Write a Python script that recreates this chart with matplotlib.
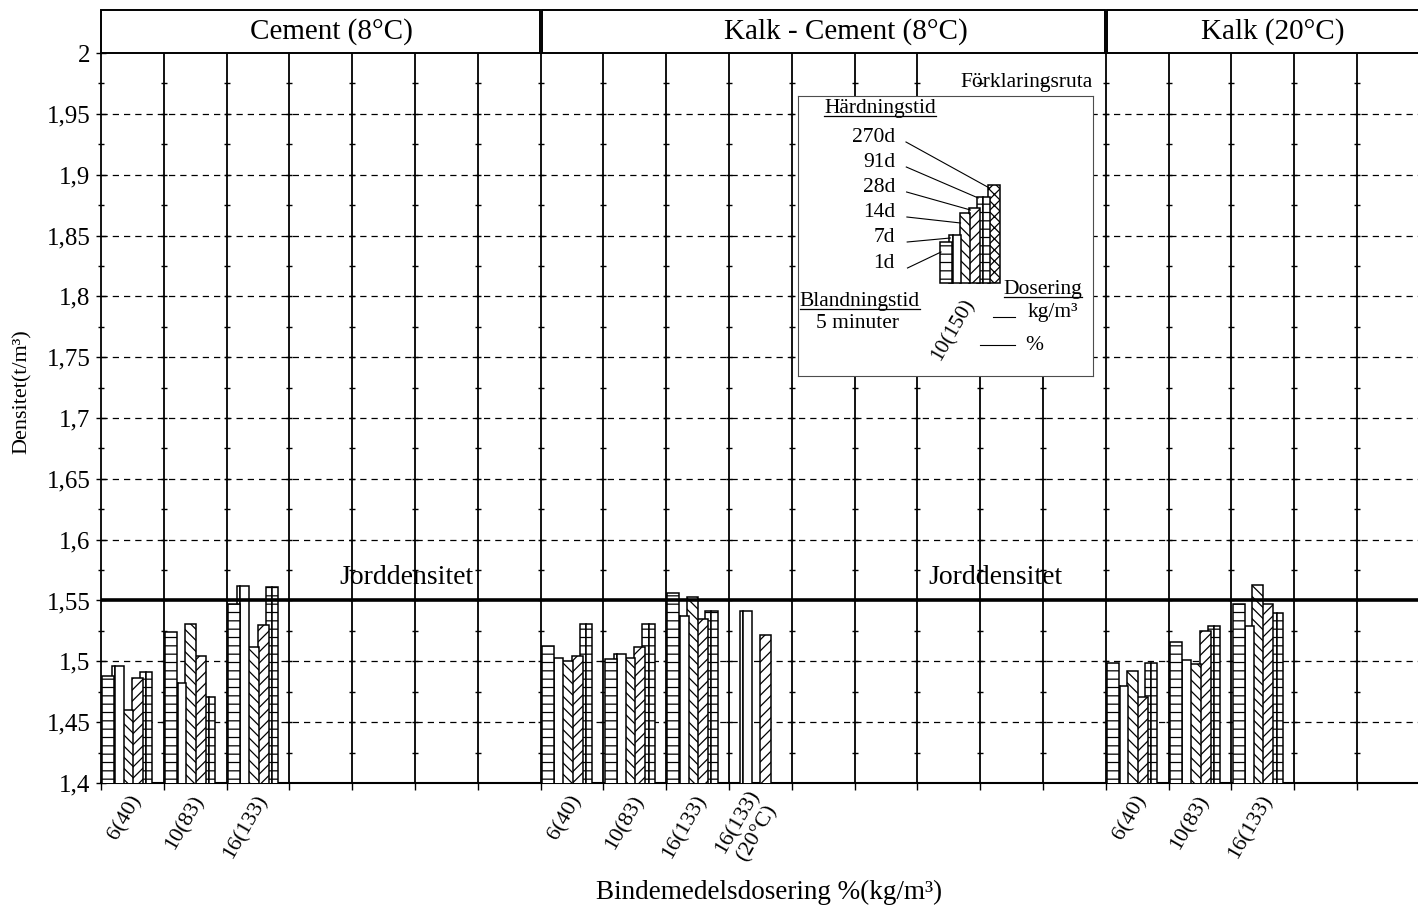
import numpy as np
import matplotlib.pyplot as plt
from matplotlib.patches import Rectangle
from matplotlib.transforms import blended_transform_factory, offset_copy
from matplotlib.ticker import FixedLocator, FuncFormatter, NullFormatter

plt.rcParams['font.family'] = ['Liberation Serif', 'DejaVu Serif']
plt.rcParams['hatch.linewidth'] = 0.9
plt.rcParams['hatch.color'] = 'black'

# ---------------------------------------------------------------- data
panel_titles = ['Cement (8°C)', 'Kalk - Cement (8°C)', 'Kalk (20°C)']
panel_slots = [7, 9, 5]
group_slots = [0, 1, 2, 7, 8, 9, 10, 16, 17, 18]
group_labels = ['6(40)', '10(83)', '16(133)',
                '6(40)', '10(83)', '16(133)', '16(133)\n(20°C)',
                '6(40)', '10(83)', '16(133)']
curing_times = ['1d', '7d', '14d', '28d', '91d', '270d']

nan = np.nan
dens_1d = [1.488, 1.524, 1.547, 1.513, 1.502, 1.556, nan, 1.499, 1.516, 1.547]
dens_7d = [1.496, 1.482, 1.562, 1.503, 1.506, 1.537, 1.541, 1.480, 1.501, 1.529]
dens_14d = [1.460, 1.531, 1.512, 1.500, 1.503, 1.553, nan, 1.492, 1.498, 1.563]
dens_28d = [1.486, 1.504, 1.530, 1.504, 1.512, 1.535, 1.522, 1.471, 1.525, 1.547]
dens_91d = [1.491, 1.471, 1.561, 1.531, 1.531, 1.541, nan, 1.499, 1.529, 1.540]
dens_270d = [nan] * 10
series = [dens_1d, dens_7d, dens_14d, dens_28d, dens_91d, dens_270d]

soil_density = 1.55
soil_label = 'Jorddensitet'
y_ticks = [1.4, 1.45, 1.5, 1.55, 1.6, 1.65, 1.7, 1.75, 1.8, 1.85, 1.9, 1.95, 2.0]

# key (Förklaringsruta) sample bar heights, in key-box pixels
key_heights = [41, 48, 70, 75, 86, 98]

# ---------------------------------------------------------------- layout
W, H = 1418, 908
AX_LEFT, AX_TOP, AX_BOTTOM = 101, 53, 783
SLOT_PX = 62.8
HEADER_TOP = 10
header_text_px = [331, 846, 1273]

bar_left = [0.02, 0.17, 0.335, 0.495, 0.62, 0.80]   # fraction of a slot
bar_width = [0.19, 0.19, 0.175, 0.175, 0.20, 0.19]
bar_hatch = ['--', '', '\\\\\\', '///', '--', 'xxx']
bar_z = [8, 7, 6, 5, 4, 3]

fig = plt.figure(figsize=(W / 100, H / 100), dpi=100)
ax = fig.add_axes([AX_LEFT / W, 1 - AX_BOTTOM / H,
                   (W - AX_LEFT) / W, (AX_BOTTOM - AX_TOP) / H])
n_slots = sum(panel_slots)
ax.set_xlim(0, (W - AX_LEFT) / SLOT_PX)
ax.set_ylim(y_ticks[0], y_ticks[-1])
ax.patch.set_visible(False)


def draw_bars(axis, x0, k, heights, slot, base=0, z_off=0):
    left = np.asarray(x0, float) + bar_left[k] * slot
    w = bar_width[k] * slot
    kw = dict(align='edge', bottom=base, facecolor='white', edgecolor='black',
              linewidth=1.1, hatch=bar_hatch[k], zorder=bar_z[k] + z_off)
    h = np.asarray(heights, float) - base
    if curing_times[k] == '7d':
        axis.bar(left, h, width=0.27 * w, **kw)
        axis.bar(left + 0.27 * w, h, width=0.73 * w, **kw)
    elif curing_times[k] == '91d':
        axis.bar(left, h, width=0.5 * w, **kw)
        axis.bar(left + 0.5 * w, h, width=0.5 * w, **kw)
    else:
        axis.bar(left, h, width=w, **kw)
    return left, w


for k, vals in enumerate(series):
    draw_bars(ax, group_slots, k, vals, 1.0)

# slot separators, dashed grid and soil density line
ax.vlines(np.arange(1, n_slots), y_ticks[0], y_ticks[-1], color='black',
          linewidth=1.3, zorder=2)
for v in y_ticks[1:-1]:
    if abs(v - soil_density) > 1e-9:
        ax.axhline(v, color='black', linewidth=0.9, linestyle=(0, (5, 4)), zorder=1)
ax.axhline(soil_density, color='black', linewidth=2.6, zorder=10)

# small tick marks on every separator
mids = [(a + b) / 2 for a, b in zip(y_ticks[:-1], y_ticks[1:])]
levels = sorted(y_ticks[1:-1] + mids)
xs, ys = np.meshgrid(np.arange(1, n_slots), levels)
ax.plot(xs.ravel(), ys.ravel(), linestyle='none', marker='_', markersize=5,
        markeredgewidth=1.0, color='black', zorder=2.5)

# axes styling
for side in ('top', 'right'):
    ax.spines[side].set_visible(False)
ax.spines['left'].set_linewidth(1.3)
ax.spines['bottom'].set_linewidth(1.5)
ax.yaxis.set_major_locator(FixedLocator(y_ticks))
ax.yaxis.set_minor_locator(FixedLocator(mids))
ax.yaxis.set_major_formatter(FuncFormatter(lambda v, p: ('%g' % round(v, 3)).replace('.', ',')))
ax.tick_params(axis='y', which='major', direction='inout', length=7, width=1,
               labelsize=18, pad=4)
ax.tick_params(axis='y', which='minor', direction='inout', length=5, width=1)
ax.xaxis.set_major_locator(FixedLocator(np.arange(0, n_slots)))
ax.xaxis.set_major_formatter(NullFormatter())
ax.tick_params(axis='x', which='major', direction='out', length=5, width=1)

# group labels under the slots
lab_tr = offset_copy(ax.transData, fig=fig, x=0, y=-14, units='dots')
for s, lab in zip(group_slots, group_labels):
    ax.text(s + 0.58, y_ticks[0], lab, transform=lab_tr, rotation=60,
            rotation_mode='anchor', ha='right', va='center', fontsize=16,
            multialignment='center', clip_on=False)

# panel header boxes
hdr_tr = blended_transform_factory(ax.transData, fig.transFigure)
start = 0
for i, (title, ns) in enumerate(zip(panel_titles, panel_slots)):
    x0 = start + (0.015 if i else 0)
    x1 = start + ns - 0.015
    ax.add_patch(Rectangle((x0, 1 - AX_TOP / H), x1 - x0, (AX_TOP - HEADER_TOP) / H,
                           transform=hdr_tr, facecolor='white', edgecolor='black',
                           linewidth=1.4, clip_on=False, zorder=5))
    fig.text(header_text_px[i] / W, 1 - (AX_TOP + HEADER_TOP) / 2 / H, title,
             ha='center', va='center', fontsize=21, zorder=6)
    start += ns

# soil density labels
for xpos in (4.87, 14.25):
    ax.text(xpos, soil_density + 0.019, soil_label, ha='center', va='center',
            fontsize=20, zorder=11)

# axis titles
fig.text(769 / W, 1 - 892 / H, 'Bindemedelsdosering %(kg/m³)', ha='center',
         va='center', fontsize=19.5)
fig.text(22 / W, 1 - 392 / H, 'Densitet(t/m³)', rotation=90, ha='center',
         va='center', fontsize=16)

# clear area behind the key caption
ax.add_patch(Rectangle((13.6, 1.9646), 2.3, 0.0354, facecolor='white',
                       edgecolor='none', zorder=2.2))
fig.text(1093 / W, 1 - 83 / H, 'Förklaringsruta', ha='right', va='center',
         fontsize=15.5, zorder=30)

# ---------------------------------------------------------------- key box
KX, KY, KW, KH = 798, 96, 295, 280
lax = fig.add_axes([KX / W, 1 - (KY + KH) / H, KW / W, KH / H])
lax.set_zorder(20)
lax.set_xlim(0, KW)
lax.set_ylim(0, KH)
lax.set_xticks([])
lax.set_yticks([])
lax.set_facecolor('white')
for sp in lax.spines.values():
    sp.set_linewidth(0.8)
    sp.set_edgecolor('0.3')

KEY_SLOT, KEY_X0, KEY_BASE = 62, 140.8, 93
key_label_y = [112, 138, 163, 188, 213, 238]
leader_drop = [10, 3, 10, 2, 1, 3]
for k, name in enumerate(curing_times):
    left, w = draw_bars(lax, [KEY_X0], k, [KEY_BASE + key_heights[k]], KEY_SLOT,
                        base=KEY_BASE)
    ly = key_label_y[k]
    lax.text(97, ly, name, ha='right', va='center', fontsize=15.5)
    lax.plot([108 + 0.3 * (5 - k), left[0] + 1],
             [ly - 4, KEY_BASE + key_heights[k] - leader_drop[k]],
             color='black', linewidth=0.8, zorder=20)

key_texts = []
key_texts.append(lax.text(82, 263, 'Härdningstid', ha='center', va='baseline', fontsize=15.5))
key_texts.append(lax.text(62, 70, 'Blandningstid', ha='center', va='baseline', fontsize=15.5))
lax.text(59, 53, '5 minuter', ha='center', va='center', fontsize=15.5)
key_texts.append(lax.text(245, 82, 'Dosering', ha='center', va='baseline', fontsize=15.5))
lax.text(255, 64, 'kg/m³', ha='center', va='center', fontsize=15.5)
lax.text(236, 31, '%', ha='center', va='center', fontsize=15.5)
lax.plot([195, 217], [59, 59], color='black', linewidth=0.8)
lax.plot([182, 217], [31, 31], color='black', linewidth=0.8)
lax.text(155, 46, '10(150)', rotation=60, ha='center', va='center', fontsize=15.5)

# underline the key headings
renderer = fig.canvas.get_renderer()
for t in key_texts:
    bb = t.get_window_extent(renderer)
    _, by = lax.transData.transform(t.get_position())
    fig.add_artist(plt.Line2D([bb.x0 / W, bb.x1 / W], [(by - 3) / H, (by - 3) / H],
                              transform=fig.transFigure, color='black',
                              linewidth=0.9, zorder=30))

fig.savefig('out.png', dpi=100)
